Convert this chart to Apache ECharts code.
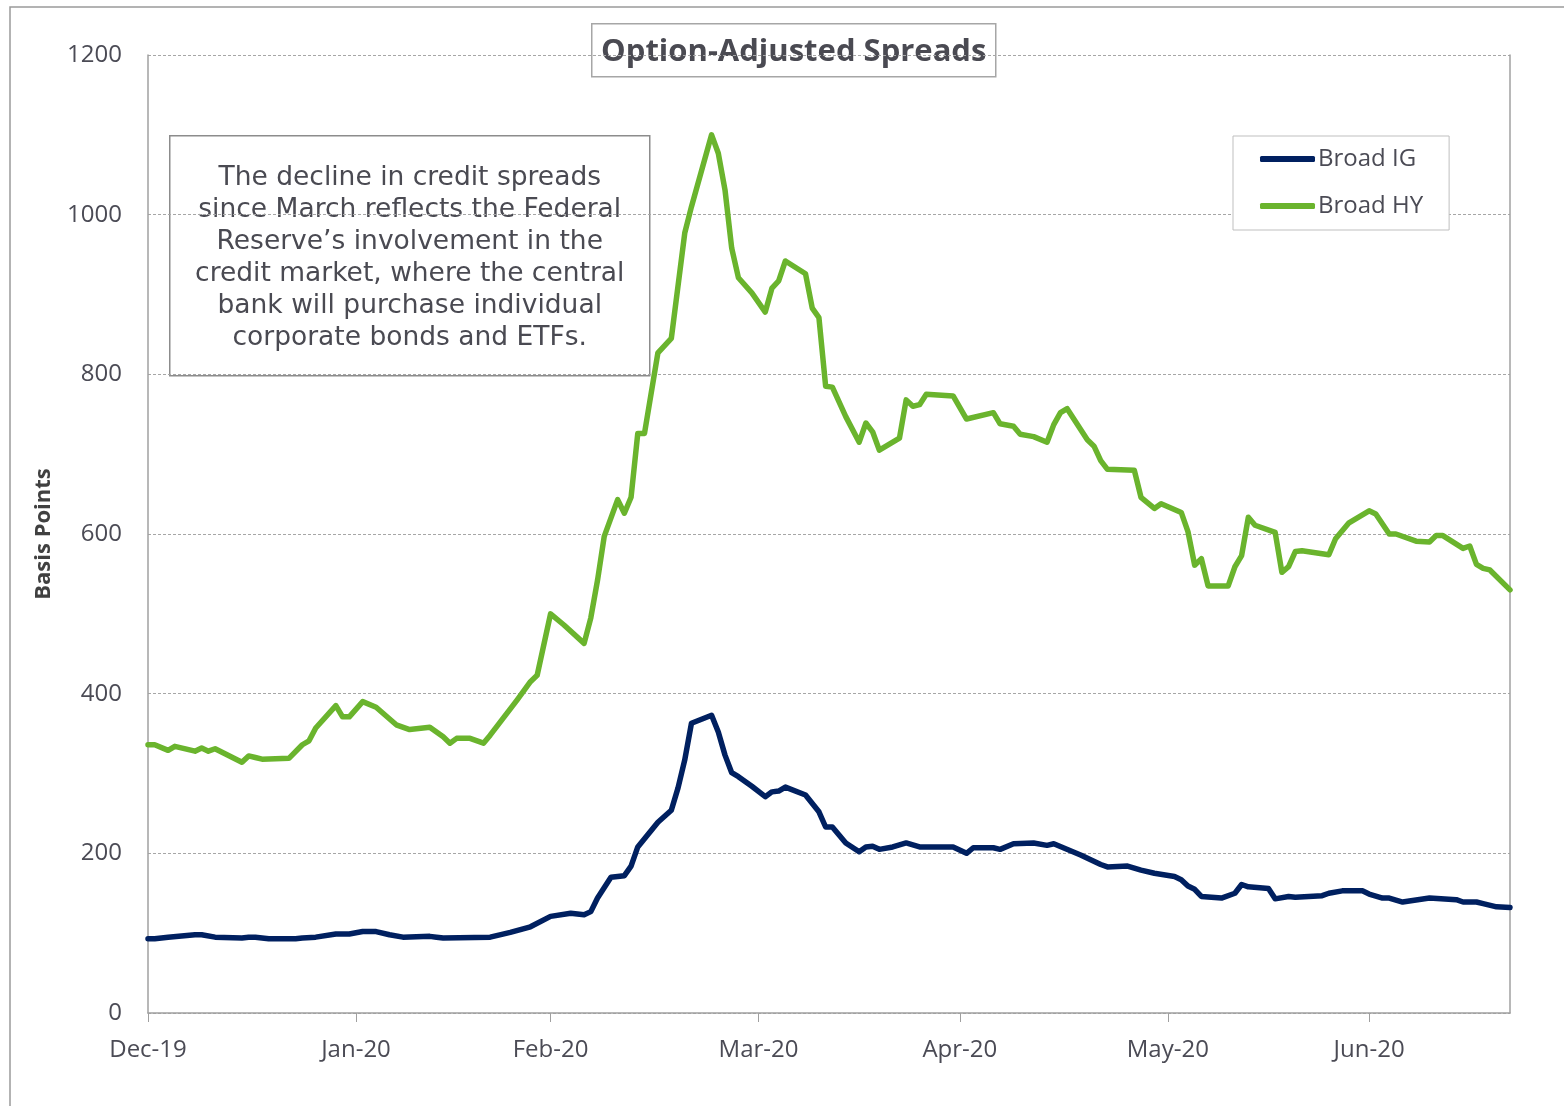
<!DOCTYPE html>
<html>
<head>
<meta charset="utf-8">
<title>Option-Adjusted Spreads</title>
<script src="https://cdn.jsdelivr.net/npm/echarts@6/dist/echarts.min.js"></script>
<style>
  html, body { margin: 0; padding: 0; background: #fff; }
  #chart { width: 1564px; height: 1106px; }
</style>
</head>
<body>
<div id="chart"></div>
<script>
// day offsets counted from 31 Dec 2019
const monthTicks = [0, 31, 60, 91, 121, 152, 182]
const monthLabels = ['Dec-19', 'Jan-20', 'Feb-20', 'Mar-20', 'Apr-20', 'May-20', 'Jun-20']
const yTicks = [0, 200, 400, 600, 800, 1000, 1200]

const hyDays = [0, 1, 3, 4, 7, 8, 9, 10, 14, 15, 16, 17, 21, 23, 24, 25, 28, 29, 30, 32, 34, 37, 39, 42,
  44, 45, 46, 48, 50, 51, 55, 57, 58, 60, 62, 65, 66, 67, 68, 70, 71, 72, 73, 74, 76, 78, 80, 81, 84, 85,
  86, 87, 88, 90, 92, 93, 94, 95, 98, 99, 100, 101, 102, 104, 106, 107, 108, 109, 112, 113, 114, 115, 116,
  120, 122, 126, 127, 129, 130, 132, 134, 135, 136, 137, 140, 141, 142, 143, 147, 148, 150, 151, 154, 155,
  156, 157, 158, 161, 162, 163, 164, 165, 168, 169, 170, 171, 172, 176, 177, 179, 182, 183, 185, 186, 189,
  191, 192, 193, 196, 197, 198, 199, 200, 203]
const hy = [336, 336, 329, 334, 328, 332, 328, 331, 314, 322, 320, 318, 319, 336, 341, 357, 385, 371, 371, 390,
  383, 361, 355, 358, 346, 338, 344, 344, 338, 348, 392, 415, 423, 500, 486, 463, 495, 542, 597, 643, 626,
  646, 726, 726, 827, 845, 977, 1010, 1100, 1077, 1031, 958, 921, 902, 878, 908, 917, 942, 926, 883, 871,
  785, 784, 747, 715, 739, 728, 705, 720, 768, 760, 762, 775, 773, 744, 752, 738, 735, 725, 722, 715, 737,
  752, 757, 718, 710, 692, 681, 680, 646, 632, 638, 627, 603, 561, 569, 535, 535, 559, 573, 621, 611, 602,
  552, 559, 578, 579, 574, 594, 614, 629, 625, 600, 600, 591, 590, 598, 598, 582, 585, 562, 557, 555, 530]

const igDays = [0, 1, 3, 7, 8, 10, 14, 15, 16, 18, 22, 23, 25, 28, 30, 32, 34, 36, 38, 42, 43, 44, 51, 54,
  57, 60, 63, 65, 66, 67, 69, 71, 72, 73, 76, 78, 79, 80, 81, 84, 85, 86, 87, 88, 90, 92, 93, 94, 95, 98,
  100, 101, 102, 104, 106, 107, 108, 109, 111, 113, 115, 116, 120, 122, 123, 126, 127, 129, 132, 134, 135,
  139, 142, 143, 146, 148, 150, 153, 154, 155, 156, 157, 160, 162, 163, 164, 167, 168, 170, 171, 175, 176,
  178, 181, 182, 184, 185, 187, 191, 195, 196, 198, 199, 201, 203]
const ig = [93, 93, 95, 98, 98, 95, 94, 95, 95, 93, 93, 94, 95, 99, 99, 102, 102, 98, 95, 96, 95, 94, 95, 101,
  108, 121, 125, 123, 127, 144, 170, 172, 184, 208, 239, 254, 282, 317, 363, 373, 352, 323, 301, 296, 284,
  271, 277, 278, 283, 273, 252, 233, 233, 213, 202, 208, 209, 205, 208, 213, 208, 208, 208, 200, 207, 207,
  205, 212, 213, 210, 212, 198, 186, 183, 184, 179, 175, 171, 167, 159, 155, 146, 144, 150, 161, 158, 156,
  143, 146, 145, 147, 150, 153, 153, 149, 144, 144, 139, 144, 142, 139, 139, 137, 133, 132]

const noteLines = [
  'The decline in credit spreads',
  'since March reflects the Federal',
  'Reserve\u2019s involvement in the',
  'credit market, where the central',
  'bank will purchase individual',
  'corporate bonds and ETFs.',
]

const textColor = '#4b4b55'
const igColor = '#002060'
const hyColor = '#6ab42d'
const font = '"Open Sans", "Noto Sans", sans-serif'

const chart = echarts.init(document.getElementById('chart'))

const option = {
  animation: false,
  backgroundColor: '#fff',
  textStyle: { fontFamily: font, color: textColor },
  grid: { left: 148, right: 54, top: 55, bottom: 93 },
  legend: {
    orient: 'vertical',
    left: 1233,
    top: 136,
    padding: [11, 26, 12, 27],
    itemGap: 23,
    itemWidth: 55,
    itemHeight: 6,
    icon: 'roundRect',
    backgroundColor: '#fff',
    borderColor: '#bfbfbf',
    borderWidth: 1,
    textStyle: { fontSize: 24, color: textColor, fontFamily: font, padding: [0, 0, 0, -2] },
    data: ['Broad IG', 'Broad HY'],
  },
  xAxis: {
    type: 'value',
    min: 0,
    max: 203,
    axisLine: { lineStyle: { color: '#a0a0a0', width: 1.5 } },
    axisTick: { show: true, customValues: monthTicks, length: 9, lineStyle: { color: '#a0a0a0' } },
    axisLabel: {
      customValues: monthTicks,
      formatter: (v) => monthLabels[monthTicks.indexOf(v)] || '',
      fontSize: 24,
      color: textColor,
      margin: 25,
    },
    splitLine: { show: false },
  },
  yAxis: [
    {
      type: 'value',
      min: 0,
      max: 1200,
      interval: 200,
      name: 'Basis Points',
      nameLocation: 'middle',
      nameGap: 93,
      nameTextStyle: { fontSize: 22, fontWeight: 'bold', color: '#404040' },
      axisLine: { show: true, lineStyle: { color: '#a0a0a0', width: 1.5 } },
      axisTick: { show: false },
      axisLabel: {
        fontSize: 24,
        color: textColor,
        margin: 26,
        formatter: (v) => (yTicks.includes(v) ? String(v) : ''),
      },
      splitLine: { lineStyle: { color: '#a6a6a6', type: [3, 2], width: 1 } },
    },
    {
      type: 'value',
      position: 'right',
      min: 0,
      max: 1200,
      interval: 200,
      axisLine: { show: true, lineStyle: { color: '#a0a0a0', width: 1.5 } },
      axisTick: { show: false },
      axisLabel: { show: false },
      splitLine: { show: false },
    },
  ],
  series: [
    {
      name: 'Broad IG',
      type: 'line',
      data: igDays.map((d, i) => [d, ig[i]]),
      symbol: 'none',
      color: igColor,
      lineStyle: { color: igColor, width: 5.5, join: 'round', cap: 'round' },
      z: 3,
    },
    {
      name: 'Broad HY',
      type: 'line',
      data: hyDays.map((d, i) => [d, hy[i]]),
      symbol: 'none',
      color: hyColor,
      lineStyle: { color: hyColor, width: 5.5, join: 'round', cap: 'round' },
      z: 3,
    },
  ],
  graphic: [
    {
      type: 'rect',
      shape: { x: 10, y: 7, width: 1600, height: 1200 },
      style: { fill: 'none', stroke: '#9a9a9a', lineWidth: 1.5 },
      silent: true,
      z: 1,
    },
    {
      type: 'group',
      left: 591,
      top: 23,
      z: 10,
      children: [
        {
          type: 'rect',
          shape: { x: 0, y: 0, width: 404, height: 53 },
          style: { fill: '#fff', stroke: '#a6a6a6', lineWidth: 1.5 },
        },
        {
          type: 'text',
          x: 202,
          y: 28,
          style: {
            text: 'Option-Adjusted Spreads',
            fontFamily: font,
            fontSize: 31,
            fontWeight: 'bold',
            fill: '#4a4a52',
            align: 'center',
            verticalAlign: 'middle',
          },
        },
      ],
    },
    {
      type: 'group',
      left: 169,
      top: 135,
      z: 10,
      children: [
        {
          type: 'rect',
          shape: { x: 0, y: 0, width: 480, height: 240 },
          style: { fill: '#fff', stroke: '#8c8c8c', lineWidth: 1.5 },
        },
        {
          type: 'text',
          x: 240,
          y: 122,
          style: {
            text: noteLines.join('\n'),
            fontFamily: '"DejaVu Sans", Verdana, sans-serif',
            fontSize: 26.5,
            lineHeight: 32,
            fill: '#4a4a52',
            align: 'center',
            verticalAlign: 'middle',
          },
        },
      ],
    },
  ],
}

chart.setOption(option)
window.addEventListener('resize', () => chart.resize())
</script>
</body>
</html>
